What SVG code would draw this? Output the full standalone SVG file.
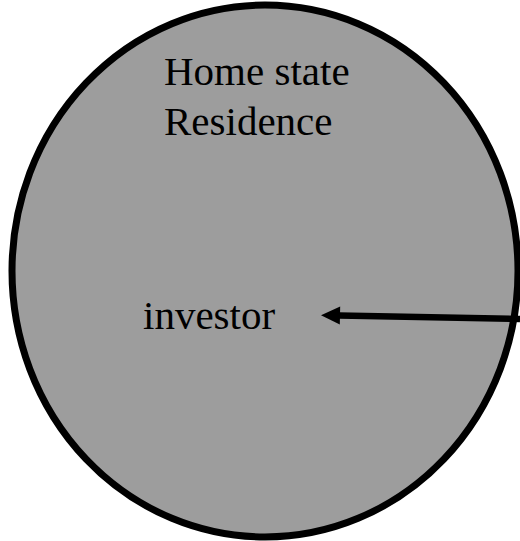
<svg xmlns="http://www.w3.org/2000/svg" width="520" height="541" viewBox="0 0 520 541">
  <style>
    .region { fill: #9d9d9d; stroke: #000; stroke-width: 7; }
    .label { font-family: "Liberation Serif", "Times New Roman", serif; font-size: 41px; fill: #000; }
    .link { stroke: #000; stroke-width: 6.5; fill: none; }
  </style>
  <defs>
    <!-- solid triangular head; the shaft stops at its base -->
    <marker id="arrow" markerUnits="userSpaceOnUse" markerWidth="20" markerHeight="19" refX="1" refY="9" orient="auto" overflow="visible">
      <path d="M0,0 L19,9 L0,18 Z" fill="#000"/>
    </marker>
  </defs>
  <rect width="520" height="541" fill="#fff"/>

  <!-- home state residence region -->
  <g id="home-state">
    <ellipse class="region" cx="265" cy="271" rx="253" ry="266"/>
    <text class="label" x="164" y="85">Home state</text>
    <text class="label" x="164" y="135">Residence</text>
  </g>

  <!-- investor -->
  <g id="investor">
    <text class="label" x="143" y="329">investor</text>
  </g>

  <!-- connectors -->
  <g id="connectors">
    <line class="link" x1="520" y1="319" x2="339" y2="315.5" marker-end="url(#arrow)"/>
  </g>
</svg>
